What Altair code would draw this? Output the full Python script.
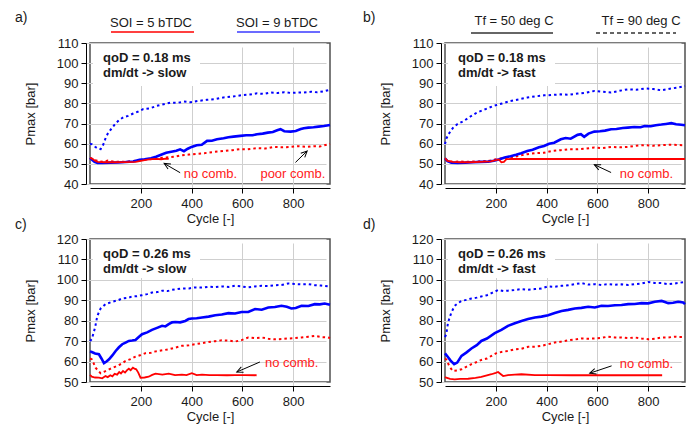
import math
import altair as alt
import pandas as pd

FONT = "Liberation Sans"
RED = "#ff0000"
BLUE = "#0000ff"
NOTE_RED = "#ff2020"
XMAX = 945
W = 240
H_TOP = 141
H_BOT = 143

# ---------------- panel a ----------------
A_BLUE_DOT_X = [0, 8, 20, 32, 42, 52, 62, 72, 85, 100, 115, 132, 150, 170, 190, 210, 235, 263, 290, 316, 345, 370, 395, 425, 460, 495, 526, 560, 605, 630, 658, 685, 711, 740, 765, 790, 815, 842, 870, 895, 920, 945]
A_BLUE_DOT_Y = [60, 59.7, 58.5, 57.5, 57.3, 59.5, 63, 65.5, 67.5, 70, 71.8, 73.2, 73.8, 75, 76, 77.2, 77.5, 78.8, 79.6, 80.4, 80.3, 80.9, 80.6, 81.2, 81.8, 82.2, 83, 83.4, 84.2, 84.4, 85, 84.7, 85.4, 85.2, 85.6, 85.2, 85.4, 85.4, 85.8, 85.5, 86, 86.8]
A_BLUE_SOL_X = [0, 8, 18, 30, 50, 80, 110, 140, 170, 195, 215, 240, 260, 280, 300, 320, 340, 355, 370, 385, 400, 420, 440, 461, 480, 500, 526, 545, 565, 592, 615, 640, 658, 680, 700, 720, 737, 750, 765, 790, 810, 830, 842, 860, 880, 900, 921, 945]
A_BLUE_SOL_Y = [53, 52, 51, 50.4, 50.4, 50.6, 50.7, 50.9, 51.2, 52, 52.3, 52.8, 53.5, 54.5, 55.5, 56, 56.5, 57.2, 56.3, 57.5, 58.4, 59.2, 59.5, 61.4, 61.5, 62.2, 62.7, 63.2, 63.5, 63.9, 64.2, 64.2, 64.7, 65, 65.5, 65.8, 66.7, 67.2, 66.2, 66, 66.3, 67.3, 67.7, 68, 68.2, 68.5, 68.8, 69.3]
A_RED_DOT_X = [0, 15, 30, 50, 70, 90, 120, 150, 180, 210, 240, 270, 300, 330, 360, 390, 420, 450, 480, 526, 560, 592, 620, 658, 690, 724, 760, 790, 820, 855, 880, 905, 934, 945]
A_RED_DOT_Y = [53, 52, 51.5, 51, 51.6, 51.2, 51, 51.2, 51.5, 52, 52.3, 52.8, 53.2, 53.5, 54.2, 54.6, 55, 55.3, 55.8, 56.4, 56.8, 57.3, 57.2, 57.8, 57.6, 58.4, 58.2, 58.4, 58.8, 58.4, 58.8, 58.6, 59.6, 60]
A_RED_SOL_X = [0, 10, 20, 30, 60, 100, 140, 180, 200, 220, 240, 260, 280, 300, 310]
A_RED_SOL_Y = [53, 52.5, 51.5, 51, 50.8, 50.8, 50.9, 51, 51.5, 52, 52.3, 52.5, 52.3, 52.6, 52.5]

# ---------------- panel b ----------------
B_BLUE_DOT_X = [0, 5, 14, 25, 34, 50, 74, 100, 126, 160, 192, 225, 258, 290, 324, 356, 390, 420, 456, 490, 522, 555, 588, 620, 654, 688, 720, 752, 786, 820, 852, 885, 918, 945]
B_BLUE_DOT_Y = [59.8, 62.5, 64.7, 66.8, 68.3, 69.8, 71.3, 73.5, 75.5, 77.2, 78.8, 80, 81.2, 82, 82.9, 83.5, 84, 84.2, 84.5, 84.3, 84.9, 85.3, 86.2, 85.8, 85.4, 86.3, 87, 86.8, 87.4, 87.2, 86.5, 87.3, 87.9, 88.7]
B_BLUE_SOL_X = [0, 10, 25, 50, 80, 110, 140, 170, 192, 215, 235, 258, 280, 300, 324, 345, 370, 390, 410, 430, 456, 475, 495, 522, 535, 548, 565, 588, 610, 630, 654, 675, 700, 720, 745, 770, 786, 810, 830, 852, 870, 891, 910, 930, 945]
B_BLUE_SOL_Y = [52.8, 51.3, 50.6, 50.5, 50.6, 50.8, 51, 51.1, 51.5, 52.3, 53.2, 53.8, 54.5, 55.3, 56.4, 57, 58.2, 58.9, 60, 60.5, 62.2, 62.8, 62.5, 64.4, 64.7, 63.4, 65, 66, 66.2, 66.5, 67.2, 67.3, 67.8, 68, 68.3, 68.2, 68.8, 68.7, 69.2, 69.5, 69.8, 70.2, 69.7, 69.4, 69.2]
B_RED_DOT_X = [0, 15, 30, 60, 90, 120, 150, 180, 200, 225, 258, 290, 324, 356, 390, 420, 456, 490, 522, 555, 588, 620, 654, 688, 720, 752, 786, 820, 852, 885, 918, 945]
B_RED_DOT_Y = [52, 51.5, 51, 51.2, 51, 51.2, 51.3, 51.6, 52.3, 52.8, 53.1, 54, 54.8, 55.3, 55.5, 56.4, 56.8, 57.3, 57.2, 57.6, 58.1, 57.8, 58.4, 58.2, 58.4, 59, 59.3, 59, 59.3, 59.5, 59.4, 59.2]
B_RED_SOL_X = [0, 10, 30, 60, 100, 140, 180, 200, 212, 222, 232, 242, 260, 400, 600, 800, 945]
B_RED_SOL_Y = [52.8, 51.5, 51, 50.8, 50.8, 51, 51.2, 51.8, 52.2, 50.8, 51, 52.3, 52.4, 52.4, 52.4, 52.4, 52.4]

# ---------------- panel c ----------------
C_BLUE_DOT_X = [0, 7, 14, 20, 29, 42, 61, 88, 110, 127, 150, 166, 185, 205, 225, 244, 265, 284, 305, 323, 345, 362, 390, 414, 440, 467, 495, 519, 545, 571, 597, 623, 650, 676, 702, 728, 754, 780, 806, 833, 860, 885, 910, 937, 945]
C_BLUE_DOT_Y = [70, 71, 74, 76.7, 82.4, 86, 88.1, 89.3, 90, 90.9, 91.2, 91.9, 92, 92.5, 93, 93.8, 94, 94.7, 94.5, 95.1, 95.5, 95.8, 95.8, 96.3, 96.2, 96.6, 96.5, 96.8, 96.5, 97.1, 96.8, 96.3, 96.8, 97.1, 97, 97.4, 97.5, 98.2, 98, 97.8, 97.9, 97.4, 97.2, 96.8, 96.6]
C_BLUE_SOL_X = [0, 7, 20, 35, 45, 55, 65, 75, 88, 101, 114, 127, 140, 153, 166, 179, 192, 205, 225, 244, 264, 284, 297, 310, 323, 336, 355, 375, 388, 401, 420, 441, 467, 493, 519, 545, 571, 597, 623, 650, 676, 702, 728, 754, 775, 793, 810, 833, 860, 885, 905, 924, 945]
C_BLUE_SOL_Y = [65, 64.7, 64, 63.6, 61.5, 59.2, 60, 61.1, 63, 65.2, 67, 68.5, 69.3, 70.1, 70.3, 70.6, 72, 73.4, 74.3, 75.5, 76.5, 77.5, 77.2, 78.3, 79.2, 79.4, 79.2, 79.9, 80.8, 81.1, 81.2, 81.6, 82, 82.7, 83, 83.7, 83.5, 84.3, 84.3, 85.7, 85.4, 86.5, 86.7, 87.3, 86.8, 86, 86.2, 87.3, 87.2, 88.1, 88, 88.4, 87.8]
C_RED_DOT_X = [0, 7, 15, 22, 32, 42, 55, 75, 90, 107, 125, 140, 160, 179, 200, 218, 240, 258, 285, 310, 335, 362, 390, 414, 440, 467, 493, 519, 545, 571, 597, 623, 650, 676, 702, 728, 754, 780, 806, 833, 860, 885, 910, 937, 945]
C_RED_DOT_Y = [61.5, 61.1, 59, 57, 55.5, 54.3, 55, 56.2, 57, 57.9, 59, 60.3, 61.2, 62.4, 63.2, 64.1, 64.3, 65, 65.5, 66, 66.8, 67.7, 68, 68.5, 69, 69.6, 70, 70.4, 70.3, 69.8, 70.5, 71.8, 71.5, 71.8, 71.2, 70.9, 71, 71.3, 71.5, 71.8, 72.2, 72.6, 72, 71.8, 71.5]
C_RED_SOL_X = [0, 7, 20, 35, 48, 61, 70, 80, 88, 97, 107, 115, 122, 130, 138, 146, 153, 160, 169, 175, 182, 190, 199, 215, 231, 245, 258, 285, 310, 335, 362, 380, 401, 420, 441, 470, 500, 540, 571, 610, 656]
C_RED_SOL_Y = [53.5, 52.6, 52.2, 52.1, 51.8, 52.9, 52.4, 53.3, 52.8, 54, 53.6, 54.9, 54.2, 55.4, 54.6, 55.8, 56.5, 55.8, 57, 56.5, 56.2, 54.6, 52.1, 52.2, 52.6, 53.5, 54.1, 53.6, 54.1, 53.4, 53.6, 53.4, 54.3, 53.4, 53.6, 53.4, 53.4, 53.3, 53.4, 53.4, 53.3]

# ---------------- panel d ----------------
D_BLUE_DOT_X = [0, 5, 12, 25, 38, 50, 65, 85, 104, 125, 143, 165, 183, 209, 230, 248, 275, 301, 327, 354, 380, 406, 432, 459, 485, 511, 537, 563, 590, 616, 642, 668, 695, 721, 747, 774, 800, 826, 853, 879, 905, 920, 945]
D_BLUE_DOT_Y = [72, 73.4, 79.1, 84, 87.3, 88.5, 89.7, 90.2, 90.9, 91.3, 91.9, 92.5, 93.5, 95, 94.5, 94.7, 95, 95.5, 95.2, 95.5, 95.8, 96.8, 96.6, 97.1, 97.3, 97.9, 98.4, 97.7, 97.9, 97.5, 97.9, 97.6, 97.8, 97.5, 97.9, 98.2, 99, 98.5, 98.4, 97.9, 98.2, 98.5, 99]
D_BLUE_SOL_X = [0, 10, 22, 36, 48, 65, 85, 104, 125, 143, 165, 196, 222, 248, 275, 301, 327, 354, 380, 406, 432, 459, 485, 511, 537, 564, 590, 616, 642, 669, 695, 721, 747, 774, 800, 826, 853, 866, 879, 898, 918, 938, 945]
D_BLUE_SOL_Y = [64, 62.5, 60.5, 58.7, 59.5, 62.8, 64.5, 66.4, 68, 70.1, 71.3, 73.9, 75.5, 77.5, 78.8, 79.9, 80.8, 81.6, 82, 82.7, 83.8, 84.8, 85.3, 86, 86.3, 86.8, 86.5, 87.3, 87.2, 87.6, 87.7, 88.1, 88.2, 88.6, 88.5, 89.3, 89.7, 89.2, 88.6, 88.8, 89.3, 88.9, 88.1]
D_RED_DOT_X = [0, 5, 18, 31, 48, 65, 85, 104, 125, 143, 165, 183, 200, 222, 248, 275, 301, 327, 354, 380, 406, 432, 459, 485, 511, 537, 563, 590, 616, 642, 668, 695, 721, 747, 774, 800, 826, 853, 879, 905, 920, 945]
D_RED_DOT_Y = [61.5, 61.1, 57.5, 55.4, 55.6, 56.2, 57.5, 58.7, 59.8, 60.8, 61.5, 62.8, 64, 64.7, 65.2, 66, 66.3, 67.2, 67.3, 67.7, 68.5, 69.3, 69.8, 70.4, 70.8, 71.3, 71.2, 71.3, 71.6, 72.2, 71.8, 71.8, 71.5, 71.8, 71.3, 70.9, 71.2, 71.8, 71.8, 72.2, 72, 72]
D_RED_SOL_X = [0, 5, 20, 38, 60, 91, 120, 143, 165, 183, 200, 209, 220, 229, 248, 275, 301, 354, 406, 500, 600, 700, 800, 855]
D_RED_SOL_Y = [52.5, 52.1, 51.5, 51.3, 51.5, 51.6, 52, 52.5, 53.2, 53.8, 54.5, 54.9, 53.8, 52.9, 53.4, 53.6, 53.8, 53.4, 53.4, 53.3, 53.3, 53.3, 53.3, 53.3]

# annotations: (text, cycle, pressure) and arrows (tail cycle, tail p, tip cycle, tip p)
A_NOTES = [("no comb.", 369, 45.2), ("poor comb.", 671, 45.2)]
A_ARROWS = [(355, 45.6, 292, 50.2), (809, 50.7, 855, 56.4)]
B_NOTES = [("no comb.", 688, 44.9)]
B_ARROWS = [(654, 45.7, 588, 49.6)]
C_NOTES = [("no comb.", 689, 59.5)]
C_ARROWS = [(669, 59.8, 578, 54.9)]
D_NOTES = [("no comb.", 688, 58.7)]
D_ARROWS = [(656, 57.9, 570, 54.3)]

INFO = {
    "a": ("qoD = 0.18 ms", "dm/dt -> slow"),
    "b": ("qoD = 0.18 ms", "dm/dt -> fast"),
    "c": ("qoD = 0.26 ms", "dm/dt -> slow"),
    "d": ("qoD = 0.26 ms", "dm/dt -> fast"),
}

HEAD = "M -0.6 1.3 L 0 0 L 0.6 1.3"


def panel(series, ymin, ymax, H, letter, letter_x, letter_y, info, notes, arrows,
          header_texts=(), header_rules=(), box_bottom=42):
    xsc = alt.Scale(domain=[0, XMAX], nice=False, zero=False)
    ysc = alt.Scale(domain=[ymin, ymax], nice=False, zero=False)
    X = alt.X("cycle:Q", scale=xsc,
              axis=alt.Axis(values=[200, 400, 600, 800], title="Cycle [-]"))
    Y = alt.Y("p:Q", scale=ysc,
              axis=alt.Axis(values=list(range(ymin, ymax + 1, 10)), title="Pmax [bar]"))
    one = pd.DataFrame({"k": [0]})
    layers = [
        alt.Chart(one).mark_rect(color="white").encode(
            x=alt.value(3), x2=alt.value(110), y=alt.value(1), y2=alt.value(box_bottom))
    ]
    for xs_, ys_, color, width, dash in series:
        kw = dict(color=color, strokeWidth=width)
        if dash:
            kw["strokeDash"] = dash
        layers.append(alt.Chart(pd.DataFrame({"cycle": xs_, "p": ys_}))
                      .mark_line(**kw).encode(x=X, y=Y))
    # arrows
    px_c = W / XMAX
    px_p = H / (ymax - ymin)
    rows = []
    for (c0, p0, c1, p1) in arrows:
        dx = (c1 - c0) * px_c
        dy = -(p1 - p0) * px_p
        ang = math.degrees(math.atan2(dx, -dy)) % 360
        rows.append({"cycle": c1, "p": p1, "cycle2": c0, "p2": p0, "ang": ang})
    adf = pd.DataFrame(rows)
    layers.append(alt.Chart(adf).mark_rule(color="black", strokeWidth=1).encode(
        x=X, y=Y, x2="cycle2:Q", y2="p2:Q"))
    layers.append(alt.Chart(adf).mark_point(shape=HEAD, filled=False, size=90,
                                            color="black", strokeWidth=1, opacity=1).encode(
        x=X, y=Y, angle=alt.Angle("ang:Q", scale=None, legend=None)))
    ndf = pd.DataFrame(notes, columns=["t", "cycle", "p"])
    layers.append(alt.Chart(ndf).mark_text(align="left", baseline="middle", color=NOTE_RED,
                                           fontSize=13, font=FONT).encode(x=X, y=Y, text="t:N"))
    # info text
    layers.append(alt.Chart(one).mark_text(text=info[0], align="left", baseline="middle",
                                           fontSize=13, fontWeight="bold", font=FONT,
                                           color="#1a1a1a").encode(x=alt.value(13), y=alt.value(15)))
    layers.append(alt.Chart(one).mark_text(text=info[1], align="left", baseline="middle",
                                           fontSize=13, fontWeight="bold", font=FONT,
                                           color="#1a1a1a").encode(x=alt.value(13), y=alt.value(30)))
    # panel letter
    layers.append(alt.Chart(one).mark_text(text=letter, align="left", baseline="top",
                                           fontSize=14, font=FONT, color="#1a1a1a").encode(
        x=alt.value(letter_x), y=alt.value(letter_y)))
    for (t, cx, by) in header_texts:
        layers.append(alt.Chart(one).mark_text(text=t, align="center", baseline="alphabetic",
                                               fontSize=13, font=FONT, color="#1a1a1a").encode(
            x=alt.value(cx), y=alt.value(by)))
    for (x0, x1, yy, color, dash) in header_rules:
        kw = dict(color=color, strokeWidth=1.5)
        if dash:
            kw["strokeDash"] = dash
        layers.append(alt.Chart(one).mark_rule(**kw).encode(
            x=alt.value(x0), x2=alt.value(x1), y=alt.value(yy)))
    return alt.layer(*layers).properties(width=W, height=H)


DOT = [2.5, 3]


def four(bdx, bdy, bsx, bsy, rdx, rdy, rsx, rsy):
    return [
        (bdx, bdy, BLUE, 2, DOT),
        (rdx, rdy, RED, 2, DOT),
        (bsx, bsy, BLUE, 2.6, None),
        (rsx, rsy, RED, 1.8, None),
    ]


pa = panel(four(A_BLUE_DOT_X, A_BLUE_DOT_Y, A_BLUE_SOL_X, A_BLUE_SOL_Y,
                A_RED_DOT_X, A_RED_DOT_Y, A_RED_SOL_X, A_RED_SOL_Y),
           40, 110, H_TOP, "a)", -75, -32, INFO["a"], A_NOTES, A_ARROWS,
           header_texts=[("SOI = 5 bTDC", 61, -16), ("SOI = 9 bTDC", 187, -16)],
           header_rules=[(21, 104, -11, RED, None), (147, 230, -11, "#3a3aff", None)],
           box_bottom=43)
pb = panel(four(B_BLUE_DOT_X, B_BLUE_DOT_Y, B_BLUE_SOL_X, B_BLUE_SOL_Y,
                B_RED_DOT_X, B_RED_DOT_Y, B_RED_SOL_X, B_RED_SOL_Y),
           40, 110, H_TOP, "b)", -82, -32, INFO["b"], B_NOTES, B_ARROWS,
           header_texts=[("Tf = 50 deg C", 69, -18), ("Tf = 90 deg C", 196, -18)],
           header_rules=[(26, 108, -10, "#333333", None), (151, 231, -10, "#333333", [4, 3])],
           box_bottom=43)
pc = panel(four(C_BLUE_DOT_X, C_BLUE_DOT_Y, C_BLUE_SOL_X, C_BLUE_SOL_Y,
                C_RED_DOT_X, C_RED_DOT_Y, C_RED_SOL_X, C_RED_SOL_Y),
           50, 120, H_BOT, "c)", -75, -21, INFO["c"], C_NOTES, C_ARROWS, box_bottom=39)
pd_ = panel(four(D_BLUE_DOT_X, D_BLUE_DOT_Y, D_BLUE_SOL_X, D_BLUE_SOL_Y,
                 D_RED_DOT_X, D_RED_DOT_Y, D_RED_SOL_X, D_RED_SOL_Y),
            50, 120, H_BOT, "d)", -82, -21, INFO["d"], D_NOTES, D_ARROWS, box_bottom=39)

chart = (
    alt.concat(pa, pb, pc, pd_, columns=2, spacing={"row": 55, "column": 115}, bounds="flush")
    .properties(padding={"left": 14, "top": 10, "right": 0, "bottom": 0})
    .configure(font=FONT)
    .configure_view(stroke="#505050", strokeWidth=1.5)
    .configure_axis(domainColor="black", tickColor="black", gridColor="#cfcfcf",
                    labelFontSize=13, titleFontSize=13, labelFont=FONT, titleFont=FONT,
                    titleFontWeight="normal", labelColor="#1a1a1a", titleColor="#1a1a1a",
                    offset=4, tickSize=5, domainWidth=1, tickWidth=1, gridWidth=1)
    .configure_axisX(labelPadding=4, titlePadding=2)
    .configure_axisY(labelPadding=3, titlePadding=19)
)

chart.save("out.html", embed_options={"renderer": "svg", "actions": False})
